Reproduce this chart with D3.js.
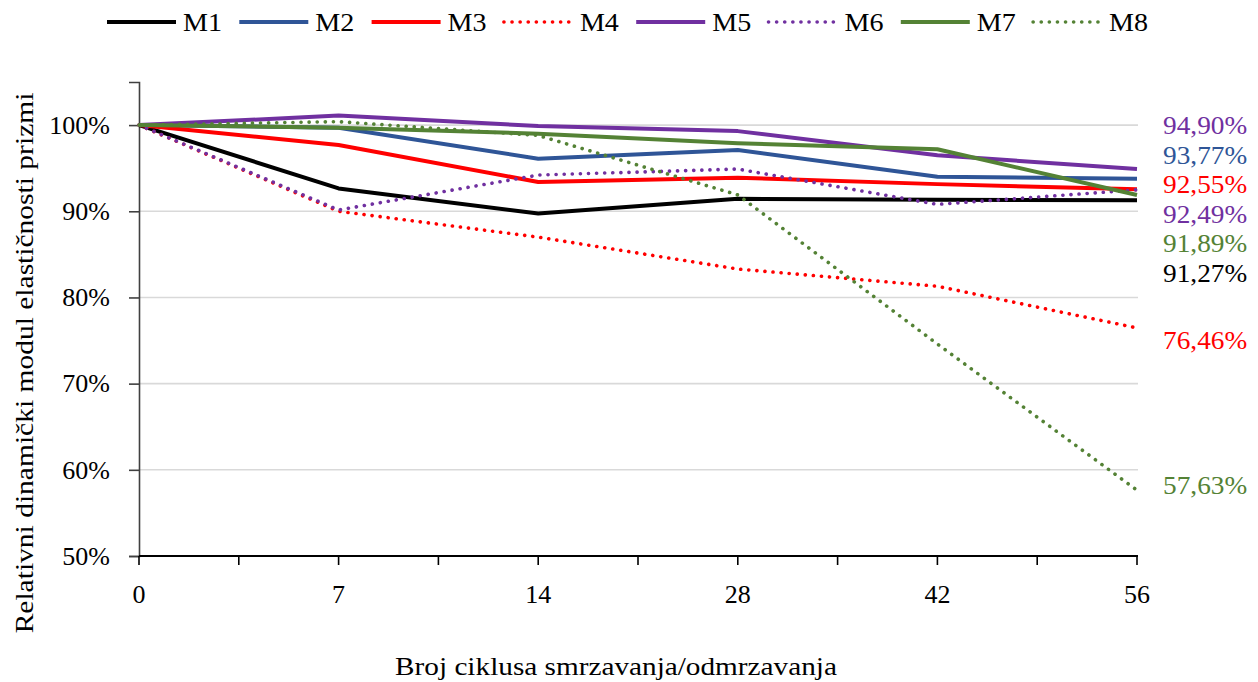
<!DOCTYPE html>
<html><head><meta charset="utf-8">
<script src="https://cdn.jsdelivr.net/npm/d3@7"></script>
<style>
body{margin:0;background:#fff}
text{font-family:"Liberation Serif","Times New Roman",serif;fill:#000}
</style></head>
<body><svg id="c" width="1258" height="682"></svg>
<script>
// ---- data ----
const categories = ["0", "7", "14", "28", "42", "56"];
const seriesNames = ["M1", "M2", "M3", "M4", "M5", "M6", "M7", "M8"];
const M1 = [100, 92.65, 89.75, 91.45, 91.35, 91.27];
const M2 = [100, 99.7, 96.1, 97.1, 94.0, 93.77];
const M3 = [100, 97.7, 93.4, 93.9, 93.15, 92.55];
const M4 = [100, 90.0, 87.0, 83.3, 81.3, 76.46];
const M5 = [100, 101.1, 99.9, 99.3, 96.5, 94.90];
const M6 = [100, 90.15, 94.2, 94.9, 90.8, 92.49];
const M7 = [100, 99.7, 99.0, 97.9, 97.2, 91.89];
const M8 = [100, 100.4, 98.8, 91.9, 74.6, 57.63];
const yTickValues = [50, 60, 70, 80, 90, 100];
const xTitle = "Broj ciklusa smrzavanja/odmrzavanja";
const yTitle = "Relativni dinamički modul elastičnosti prizmi";

// ---- styling ----
const seriesValues = [M1, M2, M3, M4, M5, M6, M7, M8];
const colors = ["#000000", "#2F5597", "#FF0000", "#FF0000", "#7030A0", "#7030A0", "#548235", "#548235"];
const dotted = [false, false, false, true, false, true, false, true];

const svg = d3.select("#c");
const x = d3.scalePoint().domain(categories).range([139, 1137]);
const y = d3.scaleLinear().domain([50, 105]).range([556, 82]);

// stretch Times-like glyphs horizontally to approximate the wider original serif
function stretch(sel, f) {
  sel.each(function () {
    const w = this.getComputedTextLength();
    d3.select(this).attr("textLength", w * f).attr("lengthAdjust", "spacingAndGlyphs");
  });
}

// gridlines
svg.append("g").selectAll("line").data(yTickValues.filter(v => v > 50)).join("line")
  .attr("x1", 139).attr("x2", 1138)
  .attr("y1", d => y(d)).attr("y2", d => y(d))
  .attr("stroke", "#d9d9d9").attr("stroke-width", 1.6);

// y axis
const yAxis = svg.append("g").attr("transform", "translate(139,0)")
  .call(d3.axisLeft(y).tickValues(yTickValues).tickSize(10).tickPadding(19)
    .tickFormat(d => d + "%"));
yAxis.select(".domain").attr("stroke", "#404040").attr("stroke-width", 1.6);
yAxis.selectAll(".tick line").attr("stroke", "#404040").attr("stroke-width", 1.6);
yAxis.selectAll("text").attr("font-size", 25).attr("font-family", "Liberation Serif").attr("fill", "#000").attr("dy", "0.33em");
stretch(yAxis.selectAll("text"), 1.04);

// x axis
const xa = svg.append("g").attr("transform", `translate(0,${y(50)})`);
const xs = categories.map(c => x(c));
const minor = xs.slice(1).map((v, i) => (v + xs[i]) / 2);
xa.append("line").attr("x1", 139).attr("x2", 1138).attr("stroke", "#000").attr("stroke-width", 2);
xa.selectAll("line.t").data(xs.concat(minor)).join("line").attr("class", "t")
  .attr("x1", d => d).attr("x2", d => d).attr("y1", 0).attr("y2", 9)
  .attr("stroke", "#000").attr("stroke-width", 1.6);
const xl = xa.selectAll("text").data(categories).join("text")
  .attr("x", d => x(d)).attr("y", 47).attr("text-anchor", "middle")
  .attr("font-size", 25).text(d => d);
stretch(xl, 1.04);

// lines
const line = d3.line().x((d, i) => x(categories[i])).y(d => y(d));
seriesValues.forEach((vals, k) => {
  svg.append("path").datum(vals).attr("d", line)
    .attr("fill", "none").attr("stroke", colors[k])
    .attr("stroke-width", dotted[k] ? 3.6 : 4)
    .attr("stroke-linejoin", "round")
    .attr("stroke-linecap", dotted[k] ? "round" : "butt")
    .attr("stroke-dasharray", dotted[k] ? "0.1 8" : null);
});

// end labels (collision-relaxed)
const fmt = v => v.toFixed(2).replace(".", ",") + "%";
let labs = seriesValues.map((v, k) => ({k, v: v[v.length - 1], y0: y(v[v.length - 1]) + 12}));
labs.sort((a, b) => a.y0 - b.y0);
const gap = 29.5;
let clusters = labs.map(l => ({items: [l], c: l.y0}));
let merged = true;
while (merged) {
  merged = false;
  for (let i = 0; i < clusters.length - 1; i++) {
    const a = clusters[i], b = clusters[i + 1];
    const aBottom = a.c + (a.items.length - 1) * gap / 2;
    const bTop = b.c - (b.items.length - 1) * gap / 2;
    if (bTop - aBottom < gap) {
      const items = a.items.concat(b.items);
      const c = d3.mean(items, d => d.y0);
      clusters.splice(i, 2, {items, c});
      merged = true; break;
    }
  }
}
const maxY = y(50) - 71;
clusters.forEach(cl => {
  cl.items.forEach((it, i) => {
    it.y = Math.min(maxY, cl.c + (i - (cl.items.length - 1) / 2) * gap);
  });
});
const el = svg.append("g").selectAll("text").data(labs).join("text")
  .attr("x", 1163).attr("y", d => d.y + 9)
  .attr("font-size", 26).attr("fill", d => colors[d.k])
  .style("fill", d => colors[d.k])
  .text(d => fmt(d.v));
stretch(el, 1.05);

// legend
const lg = svg.append("g");
seriesNames.forEach((n, k) => {
  const x0 = 107 + k * 132.3;
  lg.append("line").attr("x1", x0).attr("x2", x0 + 69).attr("y1", 22).attr("y2", 22)
    .attr("stroke", colors[k]).attr("stroke-width", dotted[k] ? 3.6 : 4)
    .attr("stroke-linecap", dotted[k] ? "round" : "butt")
    .attr("stroke-dasharray", dotted[k] ? "0.1 8" : null);
  const t = lg.append("text").attr("x", x0 + 76).attr("y", 31).attr("font-size", 26).text(n);
  stretch(t, 1.08);
});

// titles
const xt = svg.append("text").attr("x", 616).attr("y", 675).attr("text-anchor", "middle")
  .attr("font-size", 25).text(xTitle);
stretch(xt, 1.17);
const yt = svg.append("text").attr("transform", "translate(33,363) rotate(-90)")
  .attr("text-anchor", "middle").attr("font-size", 25).text(yTitle);
stretch(yt, 1.18);
</script>
</body></html>
